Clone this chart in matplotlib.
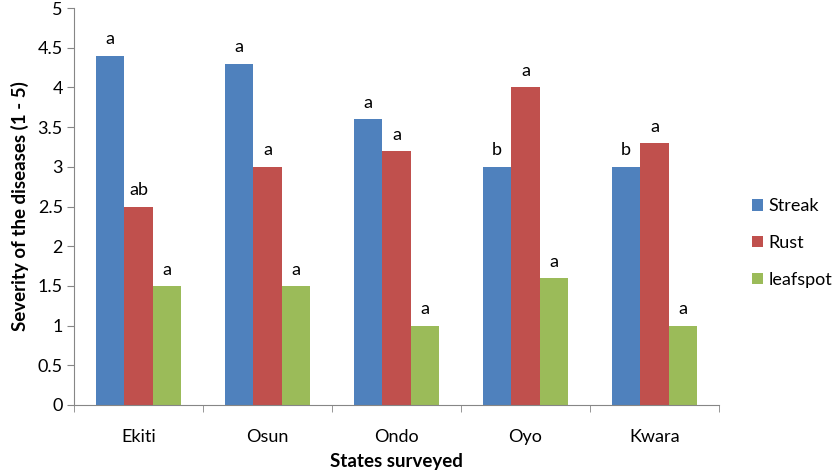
import numpy as np
import matplotlib
matplotlib.use('Agg')
import matplotlib.pyplot as plt

# ==================== data ====================
states = ['Ekiti', 'Osun', 'Ondo', 'Oyo', 'Kwara']
streak = [4.4, 4.3, 3.6, 3.0, 3.0]
rust = [2.5, 3.0, 3.2, 4.0, 3.3]
leafspot = [1.5, 1.5, 1.0, 1.6, 1.0]
streak_lbl = ['a', 'a', 'a', 'b', 'b']
rust_lbl = ['ab', 'a', 'a', 'a', 'a']
leafspot_lbl = ['a', 'a', 'a', 'a', 'a']

plt.rcParams['font.family'] = ['Lato', 'DejaVu Sans']

fig = plt.figure(figsize=(8.38, 4.73), dpi=100)
ax = fig.add_axes([0.0883, 0.1438, 0.858 - 0.0883, 0.983 - 0.1438])

x = np.arange(len(states))
w = 0.222
series = [
    ('Streak', streak, streak_lbl, '#4F81BD'),
    ('Rust', rust, rust_lbl, '#C0504D'),
    ('leafspot', leafspot, leafspot_lbl, '#9BBB59'),
]
for k, (name, vals, lbls, col) in enumerate(series):
    pos = x + (k - 1) * w
    ax.bar(pos, vals, width=w, color=col, label=name)
    for px, v, t in zip(pos, vals, lbls):
        ax.annotate(t, (px, v), xytext=(0, 6), textcoords='offset points',
                    ha='center', va='bottom', fontsize=13)

ax.set_xlim(-0.5, len(states) - 0.5)
ax.set_ylim(0, 5)
ax.set_yticks(np.arange(0, 5.01, 0.5))
ax.set_yticklabels(['0', '0.5', '1', '1.5', '2', '2.5', '3', '3.5', '4', '4.5', '5'])
ax.set_xticks(x)
ax.set_xticklabels(states)
ax.set_xticks(np.arange(-0.5, len(states), 1), minor=True)
ax.tick_params(axis='x', which='major', length=0, pad=17, labelsize=13)
ax.tick_params(axis='x', which='minor', length=5, color='#868686', direction='out')
ax.tick_params(axis='y', length=5, color='#868686', labelsize=13, pad=3)

for s in ['top', 'right']:
    ax.spines[s].set_visible(False)
for s in ['left', 'bottom']:
    ax.spines[s].set_color('#868686')

ax.set_ylabel('Severity of the diseases (1 - 5)', fontsize=13.5, fontweight='bold', labelpad=6)
ax.set_xlabel('States surveyed', fontsize=13.5, fontweight='bold', labelpad=6)

ax.legend(loc='center left', bbox_to_anchor=(1.04, 0.408), frameon=False,
          fontsize=13, handlelength=0.6, handleheight=0.6, handletextpad=0.3,
          labelspacing=1.15, borderaxespad=0)

fig.savefig('out.png', dpi=100)
